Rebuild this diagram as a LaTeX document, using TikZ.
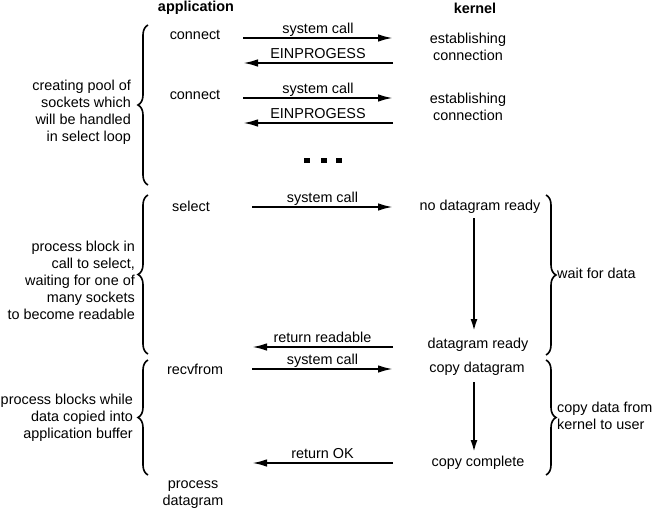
\documentclass[tikz,border=0pt]{standalone}
\usepackage{fontspec}
\setmainfont{Liberation Sans}
\usetikzlibrary{arrows.meta,decorations.pathreplacing}

\begin{document}
\begin{tikzpicture}[x=1pt,y=-1pt,
    every node/.style={font=\fontsize{14.4}{17}\selectfont,inner sep=0pt},
    head/.style={font=\fontsize{14.4}{17}\selectfont\bfseries},
    call/.style={line width=2pt,-{Latex[length=15pt,width=7.5pt]}},
    down/.style={line width=2pt,-{Latex[length=12pt,width=7pt]}},
    lbl/.style={midway,anchor=base,yshift=4.5pt},
    brc/.style={decorate,decoration={brace,amplitude=10pt},line width=1.6pt}]
    \useasboundingbox (0,0) rectangle (653,511);

    % column heads
    \node[head] (apphead) at (196,7.5) {application};
    \node[head] (kerhead) at (475,8) {kernel};

    % connect, first socket
    \node (connA) at (195,35) {connect};
    \node[align=center] (estA) at (468,47) {establishing\\connection};
    \coordinate (callAa) at (243,38);
    \coordinate (callAk) at (393,38);
    \coordinate (backAk) at (393,63);
    \coordinate (backAa) at (243,63);
    \draw[call] (callAa) -- node[lbl]{system call} (callAk);
    \draw[call] (backAk) -- node[lbl]{EINPROGESS} (backAa);

    % connect, second socket
    \node (connB) at (195,95) {connect};
    \node[align=center] (estB) at (468,107) {establishing\\connection};
    \coordinate (callBa) at (243,98);
    \coordinate (callBk) at (393,98);
    \coordinate (backBk) at (393,123);
    \coordinate (backBa) at (243,123);
    \draw[call] (callBa) -- node[lbl]{system call} (callBk);
    \draw[call] (backBk) -- node[lbl]{EINPROGESS} (backBa);

    % more sockets
    \foreach \x in {307,324,339}
        \fill (\x-3,158) rectangle (\x+3,163);

    \draw[brc] (148,185) -- (148,25);
    \node[align=right,anchor=east] (pool) at (131,112)
        {creating pool of\\sockets which\\will be handled\\in select loop};

    % select
    \node (sel) at (191,206) {select};
    \node (nodgram) at (480,207) {no datagram ready};
    \node (dgram) at (478,345) {datagram ready};
    \coordinate (callCa) at (252,207);
    \coordinate (callCk) at (393,207);
    \coordinate (backCk) at (393,347);
    \coordinate (backCa) at (252,347);
    \draw[call] (callCa) -- node[lbl]{system call} (callCk);
    \draw[call] (backCk) -- node[lbl]{return readable} (backCa);
    \coordinate (waitTop) at (474,218);
    \coordinate (waitEnd) at (474,331);
    \draw[down] (waitTop) -- (waitEnd);

    \draw[brc] (148,354) -- (148,195);
    \node[align=right,anchor=east] (blockSel) at (135,280)
        {process block in\\call to select,\\waiting for one of\\many sockets\\to become readable};
    \draw[brc] (546,195) -- (546,355);
    \node[anchor=west] (waitData) at (557,273) {wait for data};

    % recvfrom
    \node (recv) at (195,369) {recvfrom};
    \node (cpy) at (477,369) {copy datagram};
    \node (cpydone) at (478,463) {copy complete};
    \coordinate (callDa) at (252,369);
    \coordinate (callDk) at (393,369);
    \coordinate (backDk) at (393,463);
    \coordinate (backDa) at (252,463);
    \draw[call] (callDa) -- node[lbl]{system call} (callDk);
    \draw[call] (backDk) -- node[lbl]{return OK} (backDa);
    \coordinate (cpyTop) at (474,382);
    \coordinate (cpyEnd) at (474,452);
    \draw[down] (cpyTop) -- (cpyEnd);

    \draw[brc] (148,475) -- (148,360);
    \node[align=right,anchor=east] (blockRecv) at (133,418)
        {process blocks while\\data copied into\\application buffer};
    \draw[brc] (546,360) -- (546,475);
    \node[align=left,anchor=west] (cpyData) at (557,416)
        {copy data from\\kernel to user};

    \node[align=center] (procd) at (193,495) {process\\datagram};
\end{tikzpicture}
\end{document}
